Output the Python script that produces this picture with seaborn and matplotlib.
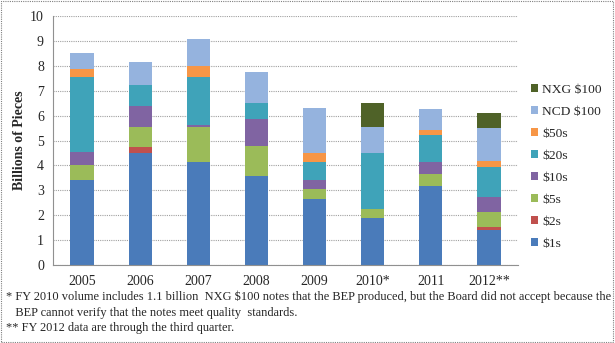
import numpy as np
import pandas as pd
import matplotlib
matplotlib.use("Agg")
import matplotlib.pyplot as plt
from matplotlib.patches import Patch, Rectangle
import seaborn as sns

years = ["2005", "2006", "2007", "2008", "2009", "2010*", "2011", "2012**"]
series_names = ["$1s", "$2s", "$5s", "$10s", "$20s", "$50s", "NCD $100", "NXG $100"]
ones    = [3.41, 4.49, 4.14, 3.57, 2.66, 1.87, 3.17, 1.41]
twos    = [0.00, 0.25, 0.00, 0.00, 0.00, 0.00, 0.00, 0.10]
fives   = [0.61, 0.79, 1.42, 1.22, 0.39, 0.37, 0.50, 0.61]
tens    = [0.51, 0.86, 0.06, 1.07, 0.38, 0.00, 0.48, 0.63]
twenties= [3.01, 0.85, 1.93, 0.65, 0.69, 2.25, 1.07, 1.19]
fifties = [0.32, 0.00, 0.45, 0.00, 0.37, 0.00, 0.20, 0.24]
ncd100  = [0.64, 0.93, 1.08, 1.23, 1.80, 1.05, 0.83, 1.33]
nxg100  = [0.00, 0.00, 0.00, 0.00, 0.00, 0.97, 0.00, 0.61]
yticks = list(range(0, 11))
footnotes = [
    "* FY 2010 volume includes 1.1 billion  NXG $100 notes that the BEP produced, but the Board did not accept because the",
    "   BEP cannot verify that the notes meet quality  standards.",
    "** FY 2012 data are through the third quarter.",
]

colors = ["#4A7BBA", "#C0504D", "#9BBB59", "#8064A2", "#3FA3B9", "#F79646", "#95B3DE", "#4F6228"]

series = [ones, twos, fives, tens, twenties, fifties, ncd100, nxg100]
df = pd.DataFrame({n: v for n, v in zip(series_names, series)}, index=years)
cum = df.cumsum(axis=1)

sns.set_style("white")
plt.rcParams["font.family"] = ["Liberation Serif", "DejaVu Serif"]

fig = plt.figure(figsize=(6.15, 3.43), dpi=100)
ax = fig.add_axes([53/615, 1-265/343, (518-53)/615, (265-16)/343])

for name, col in reversed(list(zip(series_names, colors))):
    d = pd.DataFrame({"year": years, "val": cum[name].values})
    sns.barplot(data=d, x="year", y="val", color=col, width=0.4, ax=ax,
                order=years, saturation=1, linewidth=0, edgecolor="none")

ax.set_ylim(0, 10)
ax.set_xlim(-0.5, 7.5)
ax.set_yticks(yticks)
ax.set_yticklabels([str(t) for t in yticks], fontsize=10)
ax.set_xticks(range(len(years)))
ax.set_xticklabels(years, fontsize=10)
ax.set_xticks(np.arange(-0.5, 8, 1), minor=True)
ax.tick_params(axis="x", which="major", length=0, pad=7)
ax.tick_params(axis="x", which="minor", length=3.5, color="#909090", width=0.8, direction="out")
ax.tick_params(axis="y", length=3.5, color="#909090", width=0.8, direction="out", pad=3)
ax.set_xlabel("")
ax.set_ylabel("Billions of Pieces", fontsize=10, fontweight="bold")
ax.yaxis.set_label_coords(-0.058, 0.5)

ax.set_axisbelow(True)
ax.yaxis.grid(True, color="#A0A0A0", linestyle=(0, (1, 1)), linewidth=0.8)
for s in ["top", "right"]:
    ax.spines[s].set_visible(False)
for s in ["left", "bottom"]:
    ax.spines[s].set_color("#909090")
    ax.spines[s].set_linewidth(0.8)

handles = [Patch(facecolor=c, edgecolor="none") for c in colors]
leg = fig.legend(handles[::-1], series_names[::-1], loc="upper left",
                 bbox_to_anchor=(531/615, 1-84/343), frameon=False,
                 fontsize=9.7, handlelength=0.55, handleheight=0.55,
                 handletextpad=0.3, labelspacing=0.74, borderpad=0, borderaxespad=0)

ys = [297, 313, 328]
for t, yy in zip(footnotes, ys):
    fig.text(6/615, 1-yy/343, t, fontsize=8.9, va="center", ha="left")

fig.patches.append(Rectangle((0.002, 0.003), 0.995, 0.993, transform=fig.transFigure,
                             fill=False, edgecolor="#808080", linewidth=0.8,
                             linestyle=(0, (1, 1))))

fig.savefig("out.png", dpi=100)
